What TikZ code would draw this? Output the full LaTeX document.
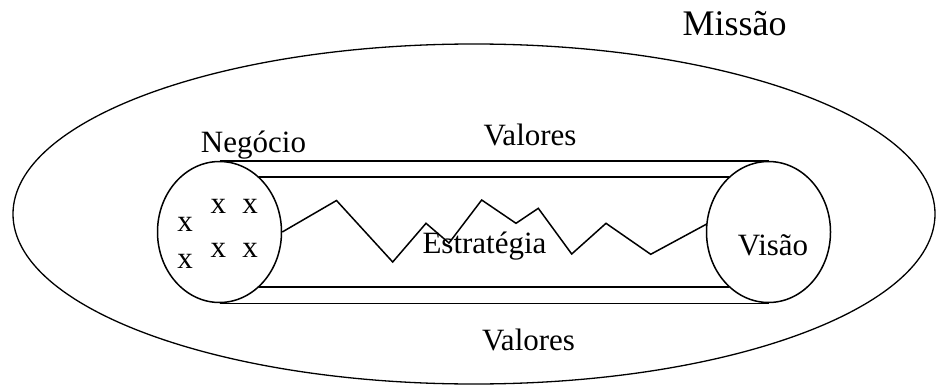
\documentclass[tikz,border=0pt]{standalone}
\usepackage{fontspec}
\setmainfont{Liberation Serif}
\usetikzlibrary{shapes.geometric}
\tikzset{
  linha/.style={line width=1.5pt},
  elipse/.style={draw, ellipse, line width=1.5pt, inner sep=0pt,
    minimum width=124pt, minimum height=141pt},
  rotulo/.style={inner sep=0pt, anchor=base, font=\fontsize{31}{36}\selectfont}
}
\begin{document}
\begin{tikzpicture}[x=1pt,y=-1pt]
    \useasboundingbox (0,0) rectangle (936,385);

    % Missao (elipse grande)
    \node[draw, ellipse, line width=1.3pt, minimum width=922pt, minimum height=340pt]
        (missaoArea) at (474,214) {};
    \node[rotulo, font=\fontsize{36}{42}\selectfont] (missao) at (734.5,36) {Missão};

    % Cilindro
    \node[elipse] (negocio) at (219.5,232) {};
    \node[elipse] (visao) at (768.5,232) {};
    \draw[linha] (negocio.north) -- (visao.north);
    \draw[linha] (negocio.54) -- (visao.126);
    \draw[linha] (negocio.-54) -- (visao.-126);
    \draw[linha] (negocio.south) -- (visao.south);

    % Estrategia (zigue-zague)
    \draw[linha] (negocio.east) -- (336.5,200.5) -- (392.7,262) -- (426,223.3)
        -- (449,243) -- (481.7,200) -- (516,223.3) -- (538.3,208.3)
        -- (571.7,254) -- (606,223.3) -- (650.7,254.3) -- (visao.173);
    \node[rotulo, fill=white, text height=0.45em] (estrategia) at (484.5,253) {Estratégia};

    % Rotulos
    \node[rotulo] (negLabel) at (253.5,152) {Negócio};
    \node[rotulo] (valTopo) at (530,145) {Valores};
    \node[rotulo] (valBase) at (528.5,350) {Valores};
    \node[rotulo] (visLabel) at (773,255) {Visão};

    \foreach \px/\py [count=\i] in {185/231.7, 185/268.3, 218.3/213.3,
        250/213.3, 218.3/257.7, 250/257.7}
        \node[rotulo] (x\i) at (\px,\py) {x};
\end{tikzpicture}
\end{document}
